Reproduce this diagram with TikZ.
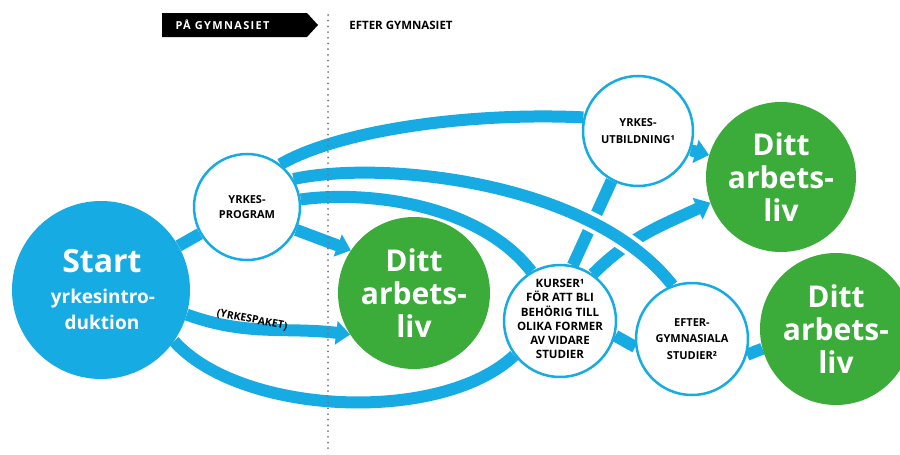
\documentclass[tikz,border=0pt]{standalone}
\usepackage{fontspec}
\setmainfont{Open Sans}
\usetikzlibrary{arrows.meta,backgrounds}
\definecolor{cblue}{RGB}{22,171,226}
\definecolor{cgreen}{RGB}{59,171,57}
\definecolor{cgray}{RGB}{120,120,120}
\begin{document}
\begin{tikzpicture}[x=1pt,y=-1pt,
  band/.style={draw=cblue, line width=12pt},
  bandarrow/.style={band, -{Triangle[length=14pt,width=23pt]}},
  whitecirc/.style={circle, draw=cblue, line width=2.5pt, fill=white, inner sep=0pt},
  smalltext/.style={font=\bfseries\fontsize{11}{16.5}\selectfont, align=center, text=black, inner sep=0pt},
  greencirc/.style={circle, fill=cgreen, inner sep=0pt, minimum size=152pt,
     font=\bfseries\fontsize{30}{33}\selectfont, align=center, text=white},
  starttext/.style={text=white, anchor=base, inner sep=0pt},
]
\useasboundingbox (0,0) rectangle (900,455);

% circles
\node[circle, fill=cblue, inner sep=0pt, minimum size=178pt] (start) at (101,290) {};
\node[starttext, font=\bfseries\fontsize{32}{32}\selectfont] (st1) at (102,272) {Start};
\node[starttext, font=\bfseries\fontsize{19}{19}\selectfont] (st2) at (103,303) {yrkesintro-};
\node[starttext, font=\bfseries\fontsize{19}{19}\selectfont] (st3) at (102,329) {duktion};

\node[whitecirc, minimum size=106pt] (yp) at (247,207) {};
\node[smalltext, font=\bfseries\fontsize{11}{15.5}\selectfont] (ypt) at (yp.center) {YRKES-\\PROGRAM};

\node[greencirc] (d1) at (414,293) {Ditt\\arbets-\\liv};

\node[whitecirc, minimum size=110pt] (yu) at (638,131) {};
\node[smalltext, font=\bfseries\fontsize{11}{17}\selectfont] (yut) at (yu.center) {YRKES-\\UTBILDNING¹};

\node[greencirc, minimum size=150pt] (d2) at (781,177) {Ditt\\arbets-\\liv};

\node[whitecirc, minimum size=112pt] (ku) at (560,321) {};
\node[smalltext, font=\bfseries\fontsize{11.5}{14.2}\selectfont] (kut) at ([yshift=2pt]ku.center) {KURSER¹\\FÖR ATT BLI\\BEHÖRIG TILL\\OLIKA FORMER\\AV VIDARE\\STUDIER};

\node[whitecirc, minimum size=112pt] (eg) at (692,339) {};
\node[smalltext, font=\bfseries\fontsize{11}{16.7}\selectfont] (egt) at (eg.center) {EFTER-\\GYMNASIALA\\STUDIER²};

\node[greencirc] (d3) at (836,329) {Ditt\\arbets-\\liv};

% bands behind
\begin{scope}[on background layer]
  \fill[white] (0,0) rectangle (900,455);
  \draw[band] (start) -- (yp);
  \draw[bandarrow] (yp.-25) -- (d1.146);
  \draw[bandarrow] (start.-16) to[out=-20,in=173] (d1.213);
  \draw[band] (start.-35) .. controls (240,415) and (440,425) .. (ku.-143);
  \draw[band] (yp.52) .. controls (340,130) and (470,112) .. (yu.166);
  \draw[band] (yp.8) .. controls (370,190) and (480,205) .. (ku.120);
  \draw[band] (ku.77) -- (yu.-118);
  \draw[bandarrow] (ku.55) to[out=45,in=205] (d2.200);
  \draw[bandarrow] (yu.-20) -- (d2.163);
  \draw[white, line width=20pt] (yp.31) .. controls (380,160) and (590,180) .. (eg.110);
  \draw[band] (yp.31) .. controls (380,160) and (590,180) .. (eg.110);
  \draw[band] (ku.-15) -- (eg.188);
  \draw[band] (eg.-16) -- (d3.195);
\end{scope}

% label on the band
\node[inner sep=0pt, rotate=-11, font=\bfseries\fontsize{10.5}{10.5}\selectfont] (yk) at (252,320) {(YRKESPAKET)};

% dotted divider
\coordinate (dtop) at (328,15);
\coordinate (dbot) at (328,453);
\draw[cgray, line width=2pt, line cap=round, dash pattern=on 0pt off 5.7pt] (dtop) -- (dbot);

% header
\fill[black] (162,13) -- (307,13) -- (318,25) -- (307,37) -- (162,37) -- cycle;
\node[text=white, inner sep=0pt, font=\bfseries\fontsize{11}{11}\selectfont\addfontfeatures{LetterSpace=12}] (pa) at (222.5,25) {PÅ GYMNASIET};
\node[text=black, inner sep=0pt, font=\bfseries\fontsize{11.5}{11.5}\selectfont] (ef) at (401,25) {EFTER GYMNASIET};
\end{tikzpicture}
\end{document}
